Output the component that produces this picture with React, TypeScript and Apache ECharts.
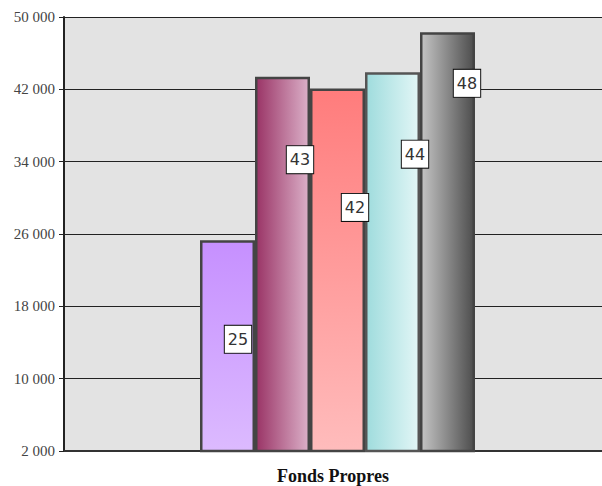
import React, { useEffect, useRef } from "react";
import * as echarts from "echarts";

// Category and tick settings
const categories = ["Fonds Propres"];
const yMin = 2000;
const yMax = 50000;
const yStep = 8000;

// One bar per series, values in euros
const seriesNames = ["A", "B", "C", "D", "E"];
const seriesValues = [25300, 43400, 42100, 43900, 48300];

const lin = (x: number, y: number, x2: number, y2: number, c0: string, c1: string) =>
  new echarts.graphic.LinearGradient(x, y, x2, y2, [
    { offset: 0, color: c0 },
    { offset: 1, color: c1 },
  ]);

const fills = [
  lin(0, 0, 0, 1, "#c690ff", "#dcbaff"),
  lin(0, 0, 1, 0, "#9a3466", "#dbb0c8"),
  lin(0, 0, 0, 1, "#ff7c7c", "#ffbcbc"),
  lin(0, 0, 1, 0, "#9fdcdd", "#e2f6f6"),
  lin(0, 0, 1, 0, "#c4c4c4", "#4e4e4e"),
];
const borders = ["#444", "#444", "#444", "#555", "#444"];
const labelPos: [number, number][] = [
  [38, 99],
  [45, 83],
  [45, 119],
  [50, 82],
  [47, 51],
];

const fmt = (v: number) => String(v).replace(/\B(?=(\d{3})+(?!\d))/g, " ");

export default function App() {
  const ref = useRef<HTMLDivElement>(null);
  useEffect(() => {
    if (!ref.current) return;
    const chart = echarts.init(ref.current, null, { renderer: "svg" });
    chart.setOption({
      animation: false,
      grid: {
        left: 64,
        width: 547,
        top: 17,
        height: 434,
        outerBoundsMode: "none",
        containLabel: false,
        backgroundColor: "#e3e3e3",
        show: true,
        borderWidth: 0,
      },
      xAxis: {
        type: "category",
        data: categories,
        axisLine: { lineStyle: { color: "#333", width: 2 } },
        axisTick: { show: false },
        axisLabel: {
          fontFamily: "Liberation Serif",
          fontWeight: "bold",
          fontSize: 18,
          color: "#111",
          margin: 16,
          padding: [0, 9, 0, 0],
        },
      },
      yAxis: {
        type: "value",
        min: yMin,
        max: yMax,
        interval: yStep,
        axisLine: { show: true, lineStyle: { color: "#222", width: 2 } },
        axisTick: { show: true, length: 5, lineStyle: { color: "#222", width: 1 } },
        axisLabel: {
          fontFamily: "Liberation Serif",
          fontSize: 15,
          color: "#444",
          margin: 9,
          formatter: (v: number) => fmt(v),
        },
        splitLine: { lineStyle: { color: "#222", width: 1 } },
      },
      series: seriesNames.map((name, i) => ({
        name,
        type: "bar",
        barWidth: 55,
        barGap: "0%",
        data: [seriesValues[i]],
        itemStyle: { color: fills[i], borderColor: borders[i], borderWidth: 2.5 },
        label: {
          show: true,
          position: labelPos[i],
          align: "center",
          verticalAlign: "middle",
          formatter: (p: any) => String(Math.round(p.value / 1000)),
          fontFamily: "DejaVu Sans",
          fontSize: 16,
          color: "#333",
          backgroundColor: "#fff",
          borderColor: "#111",
          borderWidth: 1,
          padding: [6, 3, 5, 3],
        },
      })),
    });
    return () => chart.dispose();
  }, []);
  return <div ref={ref} style={{ width: 602, height: 486, position: "absolute", left: 0, top: 0 }} />;
}
